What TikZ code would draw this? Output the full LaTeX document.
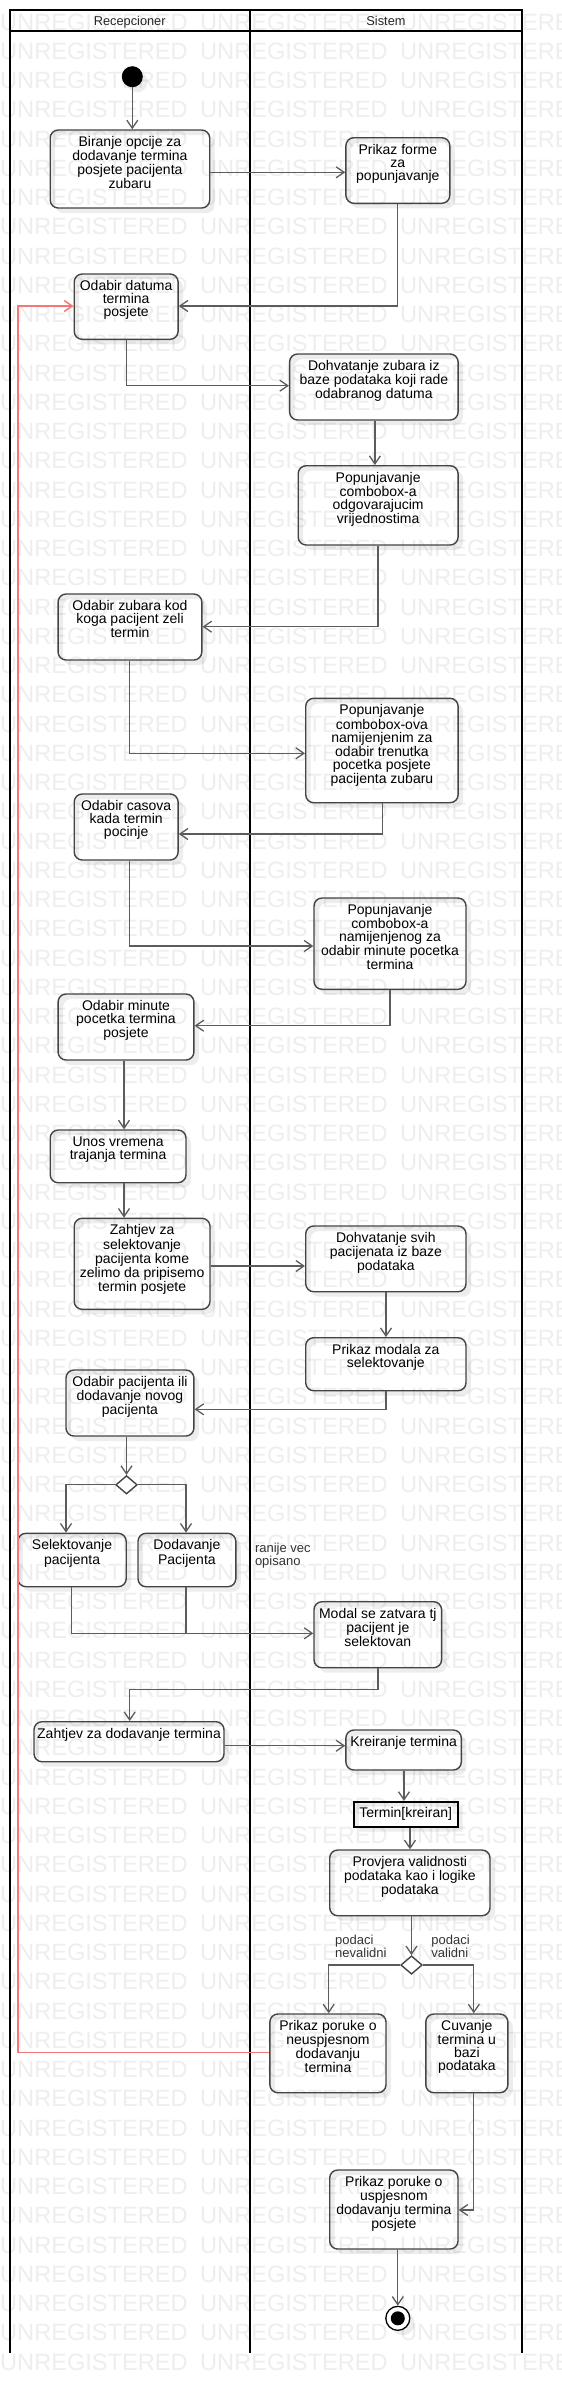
\documentclass[tikz,border=0pt]{standalone}
\usepackage{fontspec}
\setmainfont{Liberation Sans}
\usetikzlibrary{arrows.meta,shapes.geometric,fit}
\definecolor{wm}{RGB}{238,238,238}
\definecolor{ln}{RGB}{92,92,92}
\definecolor{bx}{RGB}{68,68,68}
\definecolor{rd}{RGB}{242,120,120}
\tikzset{
 actbox/.style={draw=bx, line width=1.4pt, rounded corners=8pt, inner sep=0pt},
 acttext/.style={font=\fontsize{14}{13}\selectfont, align=center, inner sep=0pt, anchor=north, text=black},
 flow/.style={draw=ln, line width=1.3pt, -{Straight Barb[length=8pt,width=11pt]}},
 plainflow/.style={draw=ln, line width=1.3pt},
 redflow/.style={draw=rd, line width=1.5pt, -{Straight Barb[length=8pt,width=11pt]}},
 shad/.style={fill=black, fill opacity=0.07, even odd rule, rounded corners=8pt},
 lane/.style={draw=black, line width=2pt},
 lbl/.style={font=\fontsize{13}{13}\selectfont, align=left, inner sep=0pt, anchor=north west, text=black!80},
 hdr/.style={font=\fontsize{12.8}{13}\selectfont, inner sep=0pt, anchor=base, text=black!85},
 wmtext/.style={font=\fontsize{23.6}{23.6}\selectfont, inner sep=0pt, anchor=base west, text=wm},
 dec/.style={diamond, draw=bx, line width=1.4pt, fill=white, minimum width=21.5pt, minimum height=18.4pt, inner sep=0pt},
}
\newcommand{\actnode}[6]{%
 \fill[shad] ([xshift=5pt,yshift=-5pt]#2,#3) rectangle ([xshift=5pt,yshift=-5pt]#4,#5) (#2,#3) rectangle (#4,#5);
 \node[actbox, fit={(#2,#3)(#4,#5)}] (#1) {};
 \node[acttext] (#1-t) at ([yshift=-7pt]#1.north) {#6};
}
\begin{document}
\begin{tikzpicture}[x=1pt,y=-1pt]
\useasboundingbox (0,0) rectangle (562,2394);
\clip (0,0) rectangle (562,2394);
\fill[white] (0,0) rectangle (562,2394);
% watermark
\foreach \k in {-2,...,79}{
  \foreach \j in {0,1,2}{
    \node[wmtext] (wm-\k-\j) at ({200*\j},{59.3+29.25*\k}) {UNREGISTERED};
  }
}
% swimlanes
\draw[lane] (9.7,2353) -- (9.7,10) -- (521.7,10) -- (521.7,2353);
\draw[lane] (249.8,10) -- (249.8,2353);
\draw[lane] (9.7,31) -- (521.7,31);
\node[hdr] (h1) at (129.7,25.5) {Recepcioner};
\node[hdr] (h2) at (386,25.5) {Sistem};

% initial
\fill[black, fill opacity=0.07] (137.3,81.7) circle (10.5pt);
\node[circle, fill=black, minimum size=21pt, inner sep=0pt] (init) at (132.3,76.7) {};

% activities
\actnode{b1}{50.2}{130}{209.7}{208}{Biranje opcije za\\dodavanje termina\\posjete pacijenta\\zubaru}
\actnode{s1}{345.9}{137.7}{449.8}{203.3}{Prikaz forme\\za\\popunjavanje}
\actnode{b2}{74.2}{274}{178.1}{339.3}{Odabir datuma\\termina\\posjete}
\actnode{s2}{289.6}{354}{458.1}{420}{Dohvatanje zubara iz\\baze podataka koji rade\\odabranog datuma}
\actnode{s3}{298.2}{465.7}{458.1}{545}{Popunjavanje\\combobox-a\\odgovarajucim\\vrijednostima}
\actnode{b3}{58.1}{594}{201.8}{660}{Odabir zubara kod\\koga pacijent zeli\\termin}
\actnode{s4}{305.7}{698.3}{458.1}{802.7}{Popunjavanje\\combobox-ova\\namijenjenim za\\odabir trenutka\\pocetka posjete\\pacijenta zubaru}
\actnode{b4}{74.2}{794}{178.1}{860}{Odabir casova\\kada termin\\pocinje}
\actnode{s5}{314}{898}{466}{989.3}{Popunjavanje\\combobox-a\\namijenjenog za\\odabir minute pocetka\\termina}
\actnode{b5}{58.1}{994}{193.9}{1060}{Odabir minute\\pocetka termina\\posjete}
\actnode{b6}{50.2}{1130}{186}{1182.7}{Unos vremena\\trajanja termina}
\actnode{b7}{74.2}{1218.3}{210}{1309.3}{Zahtjev za\\selektovanje\\pacijenta kome\\zelimo da pripisemo\\termin posjete}
\actnode{s6}{305.7}{1226}{466}{1291.7}{Dohvatanje svih\\pacijenata iz baze\\podataka}
\actnode{s7}{305.7}{1337.7}{466}{1390.7}{Prikaz modala za\\selektovanje}
\actnode{b8}{66}{1370}{193.9}{1436}{Odabir pacijenta ili\\dodavanje novog\\pacijenta}
\actnode{b9}{17.9}{1533.3}{126.2}{1586.7}{Selektovanje\\pacijenta}
\actnode{b10}{138}{1533.3}{235.8}{1586.7}{Dodavanje\\Pacijenta}
\actnode{s8}{314}{1601.7}{441.6}{1667.7}{Modal se zatvara tj\\pacijent je\\selektovan}
\actnode{b11}{34}{1721.7}{224}{1761.7}{Zahtjev za dodavanje termina}
\actnode{s9}{345.9}{1730}{461.3}{1770}{Kreiranje termina}
\actnode{s10}{329.7}{1850}{490}{1915.7}{Provjera validnosti\\podataka kao i logike\\podataka}
\actnode{s11}{269.9}{2014}{386}{2092.7}{Prikaz poruke o\\neuspjesnom\\dodavanju\\termina}
\actnode{s12}{425.8}{2014}{507.9}{2092.7}{Cuvanje\\termina u\\bazi\\podataka}
\actnode{s13}{329.7}{2170}{458}{2249}{Prikaz poruke o\\uspjesnom\\dodavanju termina\\posjete}

% object node
\fill[black, fill opacity=0.07, even odd rule] (358.8,1806.7) rectangle (462.7,1831.7) (353.8,1801.7) rectangle (457.7,1826.7);
\node[draw=black, line width=1.8pt, minimum width=103.9pt, minimum height=25pt, inner sep=0pt, font=\fontsize{14}{14}\selectfont] (obj) at (405.7,1814.2) {Termin[kreiran]};

% decisions
\node[dec] (d1) at (126.5,1484.8) {};
\node[dec] (d2) at (411.5,1965) {};

% final
\fill[black, fill opacity=0.07] (402.8,2323.3) circle (12pt);
\node[circle, draw=black, line width=1.3pt, fill=white, minimum size=24pt, inner sep=0pt] (fin) at (397.8,2318.3) {};
\node[circle, fill=black, minimum size=14pt, inner sep=0pt] (finin) at (fin.center) {};

% notes / guards
\node[lbl] (n1) at (254.8,1542.5) {ranije vec\\opisano};
\node[lbl] (n2) at (335,1935) {podaci\\nevalidni};
\node[lbl] (n3) at (431.2,1935) {podaci\\validni};

% coordinates
\coordinate (m1) at (186,1633.3);
\coordinate (k1) at (378,1689.3);
\coordinate (r1) at (17.9,306);

% connectors
\draw[flow] (init.south) -- (b1.north -| init.south);
\draw[flow] (b1.east |- 0,172.3) -- (s1.west |- 0,172.3);
\draw[flow] (s1.south -| 397.8,0) |- (b2.east |- 0,306);
\draw[flow] (b2.south -| 126.2,0) |- (s2.west |- 0,385.7);
\draw[flow] (s2.south -| 374.9,0) -- (s3.north -| 374.9,0);
\draw[flow] (s3.south -| 378.1,0) |- (b3.east |- 0,626.7);
\draw[flow] (b3.south -| 129.7,0) |- (s4.west |- 0,753.3);
\draw[flow] (s4.south -| 382.4,0) |- (b4.east |- 0,834);
\draw[flow] (b4.south -| 129.7,0) |- (s5.west |- 0,946);
\draw[flow] (s5.south -| 390,0) |- (b5.east |- 0,1025.7);
\draw[flow] (b5.south -| 124,0) -- (b6.north -| 124,0);
\draw[flow] (b6.south -| 124,0) -- (b7.north -| 124,0);
\draw[flow] (b7.east |- 0,1266) -- (s6.west |- 0,1266);
\draw[flow] (s6.south -| 386,0) -- (s7.north -| 386,0);
\draw[flow] (s7.south -| 386,0) |- (b8.east |- 0,1409.3);
\draw[flow] (b8.south -| d1.north) -- (d1.north);
\draw[flow] (d1.west) -| (b9.north -| 66,0);
\draw[flow] (d1.east) -| (b10.north -| m1);
\draw[flow] (b9.south -| 71.7,0) |- (s8.west |- m1);
\draw[plainflow] (b10.south -| m1) -- (m1);
\draw[flow] (s8.south -| k1) -- (k1) -| (b11.north -| 129.7,0);
\draw[flow] (b11.east |- 0,1745.7) -- (s9.west |- 0,1745.7);
\draw[flow] (s9.south -| 404,0) -- (obj.north -| 404,0);
\draw[flow] (obj.south -| 410,0) -- (s10.north -| 410,0);
\draw[flow] (s10.south -| d2.north) -- (d2.north);
\draw[flow] (d2.west) -| (s11.north -| 328.7,0);
\draw[flow] (d2.east) -| (s12.north -| 473.8,0);
\draw[redflow] (s11.west |- 0,2052.7) -| (r1) -- (b2.west |- r1);
\draw[flow] (s12.south -| 473.8,0) |- (s13.east |- 0,2210);
\draw[flow] (s13.south -| fin.north) -- (fin.north);
\end{tikzpicture}
\end{document}
